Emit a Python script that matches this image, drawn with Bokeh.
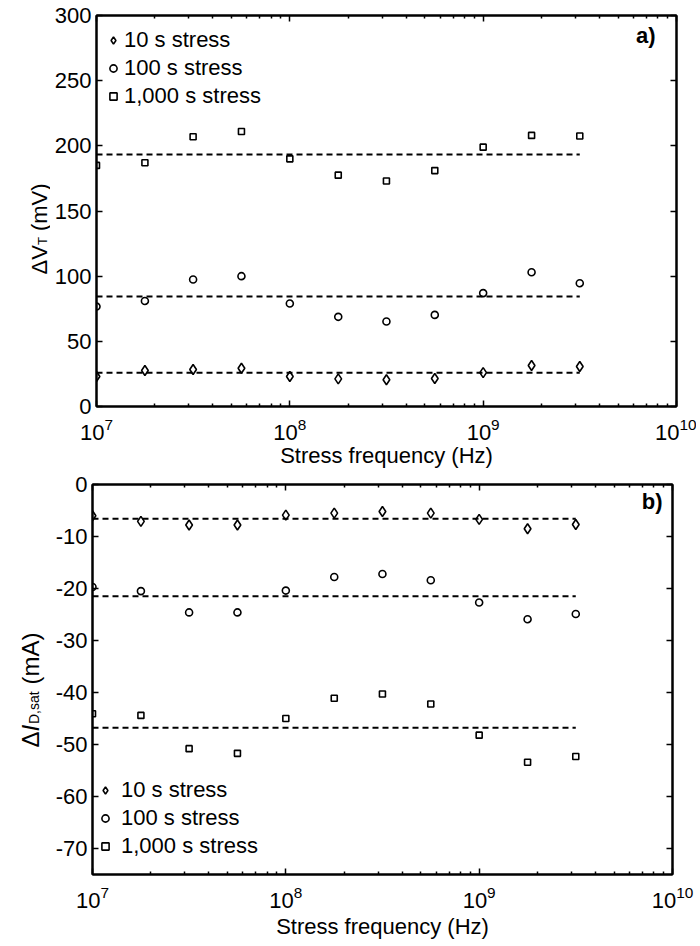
import math
from bokeh.plotting import figure
from bokeh.models import (LogAxis, LinearAxis, FixedTicker, Legend, Label,
                          LegendItem, Range1d, CustomJSTickFormatter)
from bokeh.layouts import column, row
from bokeh.core.properties import value
from bokeh.embed import file_html
from bokeh.resources import INLINE

# ---------------- data ----------------
freq_hz = [1.0e7, 1.78e7, 3.16e7, 5.62e7, 1.0e8, 1.78e8,
           3.16e8, 5.62e8, 1.0e9, 1.78e9, 3.16e9]
series_labels = ["10 s stress", "100 s stress", "1,000 s stress"]
series_markers = ["diamond", "circle", "square"]

dvt_10s = [23.0, 27.6, 28.4, 29.4, 23.0, 21.2, 20.5, 21.5, 26.0, 31.5, 30.7]
dvt_100s = [76.7, 81.0, 97.4, 100.0, 79.0, 68.8, 65.2, 70.3, 87.0, 103.0, 94.6]
dvt_1000s = [185.0, 187.0, 207.0, 211.0, 190.0, 177.5, 173.0, 181.0, 199.0, 208.0, 207.5]
dvt_mean = [25.8, 84.4, 193.4]

did_10s = [-6.0, -7.1, -7.8, -7.8, -5.9, -5.5, -5.2, -5.5, -6.7, -8.5, -7.7]
did_100s = [-19.7, -20.5, -24.6, -24.6, -20.4, -17.8, -17.2, -18.4, -22.7, -25.9, -24.9]
did_1000s = [-44.1, -44.4, -50.8, -51.7, -45.0, -41.1, -40.3, -42.2, -48.2, -53.4, -52.3]
did_mean = [-6.6, -21.5, -46.8]

x_major_ticks = [1e7, 1e8, 1e9, 1e10]
x_minor_ticks = [m * d for d in (1e7, 1e8, 1e9) for m in range(2, 10)]
dvt_ticks = [0, 50, 100, 150, 200, 250, 300]
dvt_tick_labels = ["0", "50", "100", "150", "200", "250", "300"]
did_ticks = [-70, -60, -50, -40, -30, -20, -10, 0]
did_tick_labels = ["-70", "-60", "-50", "-40", "-30", "-20", "-10", "0"]

FONT = "Liberation Sans"
MARKER_SIZE = {"diamond": 10, "circle": 7, "square": 6}


def style_axis(ax, ticks, minor, show_labels, minor_len):
    ax.ticker = FixedTicker(ticks=ticks, minor_ticks=minor)
    ax.axis_line_width = 2
    ax.axis_line_color = "black"
    ax.major_tick_in = 6
    ax.major_tick_out = 0
    ax.minor_tick_in = minor_len
    ax.minor_tick_out = 0
    ax.major_tick_line_width = 1.5
    ax.minor_tick_line_width = 1.5
    ax.major_tick_line_color = "black"
    ax.minor_tick_line_color = "black"
    if show_labels:
        ax.major_label_text_font = FONT
        ax.major_label_text_font_size = "22px"
        ax.major_label_text_color = "black"
    else:
        ax.formatter = CustomJSTickFormatter(code="return ''")
        ax.major_label_text_font_size = "2px"
        ax.major_label_standoff = 0
        ax.axis_label = None


def build_panel(series, means, yr, yticks, ytick_labels, frame_h, b_left,
                b_top, b_bottom, b_right, xlabel_standoff, leg_xy,
                leg_standoff, tag, tag_xy):
    p = figure(x_axis_type="log", x_range=Range1d(1e7, 1e10),
               y_range=Range1d(*yr), frame_width=580, frame_height=frame_h,
               min_border_left=b_left, min_border_top=b_top,
               min_border_bottom=b_bottom, min_border_right=b_right,
               output_backend="svg", toolbar_location=None)
    p.xgrid.visible = False
    p.ygrid.visible = False
    p.outline_line_color = "black"
    p.outline_line_width = 2
    p.background_fill_color = "white"
    p.border_fill_color = "white"

    xb = p.below[0]
    style_axis(xb, x_major_ticks, x_minor_ticks, True, 3)
    xb.major_label_standoff = 11
    xb.axis_label = "Stress frequency (Hz)"
    xb.axis_label_text_font = FONT
    xb.axis_label_text_font_size = "22px"
    xb.axis_label_text_font_style = "normal"
    xb.axis_label_text_color = "black"
    xb.axis_label_standoff = xlabel_standoff

    yl = p.left[0]
    style_axis(yl, yticks, [], True, 0)
    yl.major_label_overrides = dict(zip(yticks, ytick_labels))
    yl.major_label_standoff = 5
    yl.axis_label = None

    xt = LogAxis()
    style_axis(xt, x_major_ticks, x_minor_ticks, False, 3)
    p.add_layout(xt, "above")
    yrt = LinearAxis()
    style_axis(yrt, yticks, [], False, 0)
    p.add_layout(yrt, "right")

    for m in means:
        p.line([freq_hz[0], freq_hz[-1]], [m, m], line_dash="6 4",
               line_width=2, line_color="black")

    items = []
    for vals, mk, lab in zip(series, series_markers, series_labels):
        r = p.scatter(freq_hz, vals, marker=mk, size=MARKER_SIZE[mk],
                      fill_color=None, line_color="black", line_width=1.6)
        items.append(LegendItem(label=lab, renderers=[r]))

    leg = Legend(items=items, location=leg_xy, padding=0, margin=0,
                 spacing=2, glyph_width=18, glyph_height=18, label_height=25,
                 label_standoff=leg_standoff, label_text_font=FONT,
                 label_text_font_size="22px", label_text_color="black",
                 border_line_color=None, background_fill_alpha=0)
    p.add_layout(leg)

    p.add_layout(Label(x=tag_xy[0], y=tag_xy[1], x_units="screen",
                       y_units="screen", text=tag, text_align="right",
                       text_baseline="middle", text_font=FONT,
                       text_font_size="22px", text_font_style="bold",
                       text_color="black"))
    return p


def label_strip(height, parts):
    """Narrow figure that carries the rotated y-axis title (with subscript)."""
    s = figure(title=None, frame_width=50, frame_height=height,
               x_range=Range1d(0, 50), y_range=Range1d(0, height),
               min_border=0, x_axis_location=None, y_axis_location=None,
               output_backend="svg", toolbar_location=None)
    s.xgrid.visible = False
    s.ygrid.visible = False
    s.outline_line_color = None
    s.background_fill_color = "white"
    s.border_fill_color = "white"
    for text, size, style, lx, ly in parts:
        s.text(x=[lx], y=[ly], text=[text], angle=math.pi / 2,
               text_align="left", text_baseline="alphabetic",
               text_font=value(FONT), text_font_size=value(size),
               text_font_style=style, text_color="black")
    return s


# ---- panel a ----
p1 = build_panel([dvt_10s, dvt_100s, dvt_1000s], dvt_mean, (0, 300),
                 dvt_ticks, dvt_tick_labels, 391, 46, 15, 68, 20, 0,
                 (8, 297), 2, "a)", (559, 371))
lab1 = label_strip(474, [
    ("\u0394V", "22px", "normal", 39.3, 215),
    ("T", "13px", "normal", 42.3, 244.4),
    ("(mV)", "22px", "normal", 39.3, 258.4),
])

# ---- panel b ----
p2 = build_panel([did_10s, did_100s, did_1000s], did_mean, (-75, 0),
                 did_ticks, did_tick_labels, 390, 42, 10, 72, 24, 3,
                 (4, 15), 7, "b)", (570, 373.5))
lab2 = label_strip(472, [
    ("\u0394", "24px", "normal", 30, 209),
    ("I", "24px", "italic", 30, 225),
    ("D,sat", "14px", "normal", 33, 232.5),
    ("(mA)", "24px", "normal", 30, 271.9),
])

layout = column(row(lab1, p1, spacing=0), row(lab2, p2, spacing=0), spacing=0)
open("out.html", "w").write(file_html(layout, INLINE))
